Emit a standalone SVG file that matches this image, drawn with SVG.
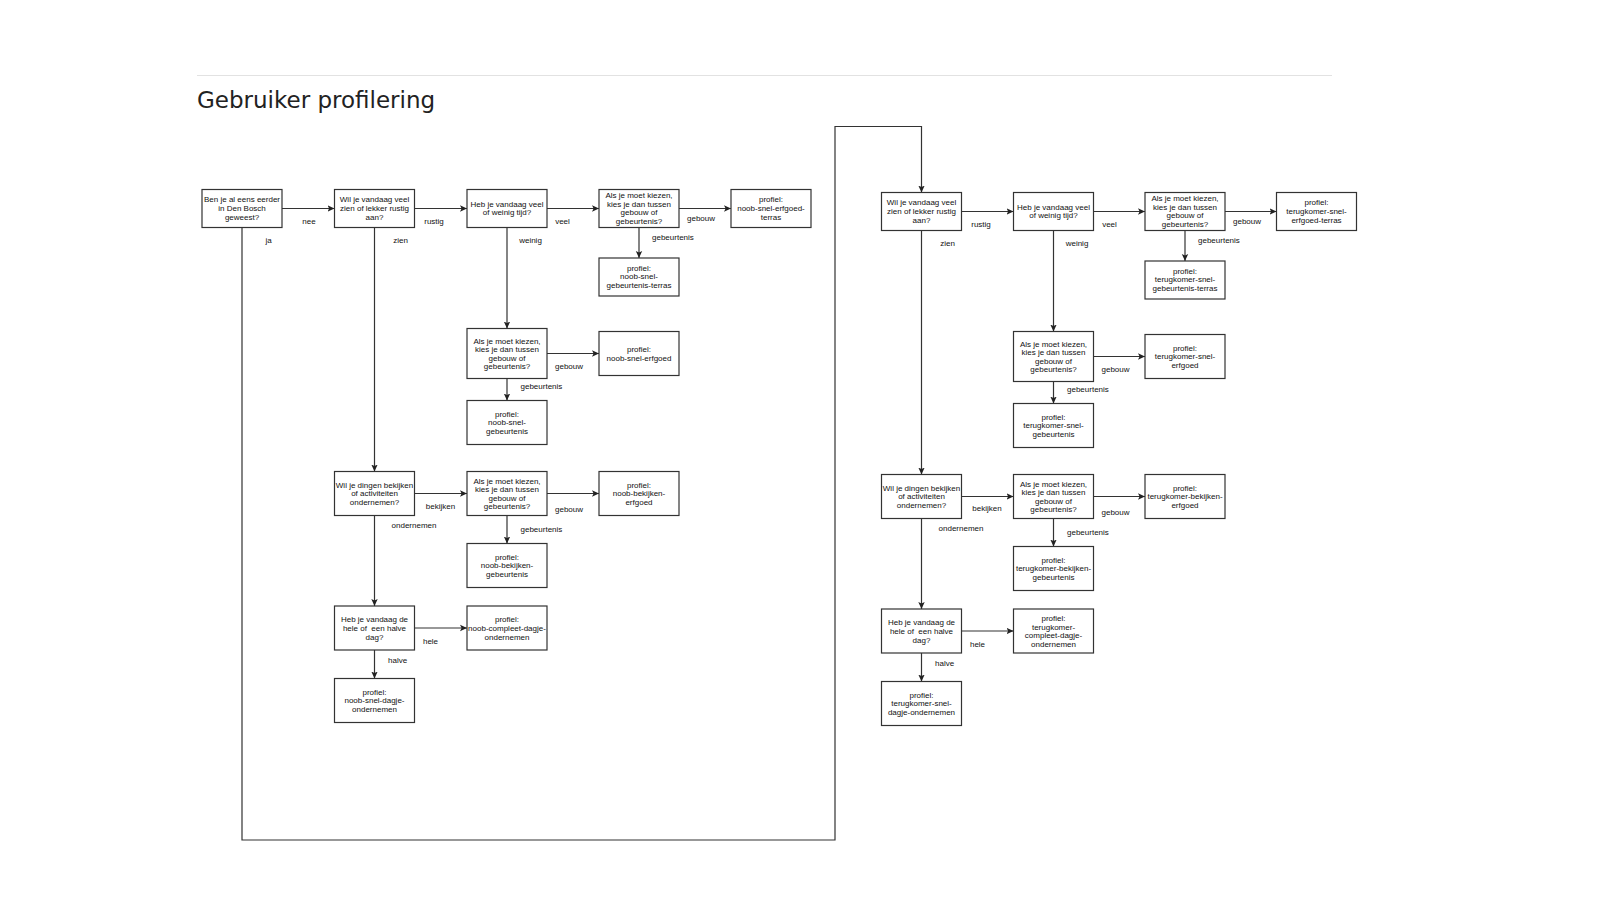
<svg xmlns="http://www.w3.org/2000/svg" width="1600" height="900" viewBox="0 0 1600 900">
  <style>
    .title { font-family: "DejaVu Sans", "Liberation Sans", sans-serif; font-size: 23px; fill: #222; }
    .node rect { fill: #fff; stroke: #333; stroke-width: 1.2; }
    .node text { font-family: "Liberation Sans", Arial, sans-serif; font-size: 8px; fill: #111; text-anchor: middle; }
    .conn { fill: none; stroke: #333; stroke-width: 1.2; }
    .lbl { font-family: "Liberation Sans", Arial, sans-serif; font-size: 8px; fill: #111; text-anchor: middle; }
    .lbl.start { text-anchor: start; }
  </style>
  <defs>
    <marker id="arrow" markerUnits="userSpaceOnUse" markerWidth="8" markerHeight="8" viewBox="0 0 8 8" refX="7" refY="4" orient="auto">
      <path d="M0,0.8 L7,4 L0,7.2 L1.6,4 Z" fill="#222"/>
    </marker>
  </defs>

  <rect x="0" y="0" width="1600" height="900" fill="#fff"/>

  <!-- header -->
  <line x1="197" y1="75.5" x2="1332" y2="75.5" stroke="#e2e2e2" stroke-width="1"/>
  <text class="title" x="197" y="108">Gebruiker profilering</text>

  <!-- connectors -->
  <g id="connectors">
    <!-- left flow -->
    <path class="conn" marker-end="url(#arrow)" d="M282,208.5 H334.5"/>
    <path class="conn" marker-end="url(#arrow)" d="M414.5,208.5 H467"/>
    <path class="conn" marker-end="url(#arrow)" d="M547,208.5 H599"/>
    <path class="conn" marker-end="url(#arrow)" d="M679,208.5 H731"/>
    <path class="conn" marker-end="url(#arrow)" d="M639,227.5 V258"/>
    <path class="conn" marker-end="url(#arrow)" d="M507,227.5 V328.5"/>
    <path class="conn" marker-end="url(#arrow)" d="M547,353.5 H599"/>
    <path class="conn" marker-end="url(#arrow)" d="M507,378.5 V400.5"/>
    <path class="conn" marker-end="url(#arrow)" d="M374.5,227.5 V471.5"/>
    <path class="conn" marker-end="url(#arrow)" d="M414.5,493.5 H467"/>
    <path class="conn" marker-end="url(#arrow)" d="M547,493.5 H599"/>
    <path class="conn" marker-end="url(#arrow)" d="M507,515.5 V543.5"/>
    <path class="conn" marker-end="url(#arrow)" d="M374.5,515.5 V606"/>
    <path class="conn" marker-end="url(#arrow)" d="M414.5,628 H467"/>
    <path class="conn" marker-end="url(#arrow)" d="M374.5,650 V678.5"/>
    <!-- "ja" branch loops round to the returning-visitor flow -->
    <path class="conn" marker-end="url(#arrow)" d="M242,227.5 V840 H835 V126.5 H921.5 V192.5"/>

    <!-- right flow -->
    <path class="conn" marker-end="url(#arrow)" d="M961.5,211.5 H1013.5"/>
    <path class="conn" marker-end="url(#arrow)" d="M1093.5,211.5 H1145"/>
    <path class="conn" marker-end="url(#arrow)" d="M1225,211.5 H1276.5"/>
    <path class="conn" marker-end="url(#arrow)" d="M1185,230.5 V261"/>
    <path class="conn" marker-end="url(#arrow)" d="M1053.5,230.5 V331.5"/>
    <path class="conn" marker-end="url(#arrow)" d="M1093.5,356.5 H1145"/>
    <path class="conn" marker-end="url(#arrow)" d="M1053.5,381.5 V403.5"/>
    <path class="conn" marker-end="url(#arrow)" d="M921.5,230.5 V474.5"/>
    <path class="conn" marker-end="url(#arrow)" d="M961.5,496.5 H1013.5"/>
    <path class="conn" marker-end="url(#arrow)" d="M1093.5,496.5 H1145"/>
    <path class="conn" marker-end="url(#arrow)" d="M1053.5,518.5 V546.5"/>
    <path class="conn" marker-end="url(#arrow)" d="M921.5,518.5 V609"/>
    <path class="conn" marker-end="url(#arrow)" d="M961.5,631 H1013.5"/>
    <path class="conn" marker-end="url(#arrow)" d="M921.5,653 V681.5"/>

    <!-- edge labels -->
    <text class="lbl" x="309" y="224">nee</text>
    <text class="lbl" x="268.5" y="243">ja</text>
    <text class="lbl" x="434" y="224">rustig</text>
    <text class="lbl" x="400.5" y="243">zien</text>
    <text class="lbl" x="562.5" y="224">veel</text>
    <text class="lbl" x="530.5" y="243">weinig</text>
    <text class="lbl" x="701" y="221">gebouw</text>
    <text class="lbl start" x="652" y="240">gebeurtenis</text>
    <text class="lbl" x="569" y="369">gebouw</text>
    <text class="lbl start" x="520.5" y="389">gebeurtenis</text>
    <text class="lbl" x="440.5" y="508.5">bekijken</text>
    <text class="lbl" x="569" y="512">gebouw</text>
    <text class="lbl start" x="520.5" y="532">gebeurtenis</text>
    <text class="lbl" x="414" y="528">ondernemen</text>
    <text class="lbl" x="430.5" y="644">hele</text>
    <text class="lbl start" x="388" y="663">halve</text>

    <text class="lbl" x="981" y="227">rustig</text>
    <text class="lbl" x="947.5" y="246">zien</text>
    <text class="lbl" x="1109.5" y="227">veel</text>
    <text class="lbl" x="1077" y="246">weinig</text>
    <text class="lbl" x="1247" y="224">gebouw</text>
    <text class="lbl start" x="1198" y="243">gebeurtenis</text>
    <text class="lbl" x="1115.5" y="372">gebouw</text>
    <text class="lbl start" x="1067" y="392">gebeurtenis</text>
    <text class="lbl" x="987" y="511">bekijken</text>
    <text class="lbl" x="1115.5" y="515">gebouw</text>
    <text class="lbl start" x="1067" y="535">gebeurtenis</text>
    <text class="lbl" x="961" y="531">ondernemen</text>
    <text class="lbl" x="977.5" y="647">hele</text>
    <text class="lbl start" x="935" y="666">halve</text>
  </g>

  <!-- first-time visitor (noob) -->
  <g id="n-bosch" class="node">
    <rect x="202" y="189.5" width="80" height="38"/>
    <text x="242"><tspan x="242" y="202.3">Ben je al eens eerder</tspan><tspan x="242" y="210.9">in Den Bosch</tspan><tspan x="242" y="219.5">geweest?</tspan></text>
  </g>
  <g id="n-zien" class="node">
    <rect x="334.5" y="189.5" width="80" height="38"/>
    <text><tspan x="374.5" y="202.3">Wil je vandaag veel</tspan><tspan x="374.5" y="210.9">zien of lekker rustig</tspan><tspan x="374.5" y="219.5">aan?</tspan></text>
  </g>
  <g id="n-tijd" class="node">
    <rect x="467" y="189.5" width="80" height="38"/>
    <text><tspan x="507" y="206.6">Heb je vandaag veel</tspan><tspan x="507" y="215.2">of weinig tijd?</tspan></text>
  </g>
  <g id="n-keuze-terras" class="node">
    <rect x="599" y="189.5" width="80" height="38"/>
    <text><tspan x="639" y="198">Als je moet kiezen,</tspan><tspan x="639" y="206.6">kies je dan tussen</tspan><tspan x="639" y="215.2">gebouw of</tspan><tspan x="639" y="223.8">gebeurtenis?</tspan></text>
  </g>
  <g id="n-noob-snel-erfgoed-terras" class="node">
    <rect x="731" y="189.5" width="80" height="38"/>
    <text><tspan x="771" y="202.3">profiel:</tspan><tspan x="771" y="210.9">noob-snel-erfgoed-</tspan><tspan x="771" y="219.5">terras</tspan></text>
  </g>
  <g id="n-noob-snel-gebeurtenis-terras" class="node">
    <rect x="599" y="258" width="80" height="38"/>
    <text><tspan x="639" y="270.8">profiel:</tspan><tspan x="639" y="279.4">noob-snel-</tspan><tspan x="639" y="288">gebeurtenis-terras</tspan></text>
  </g>
  <g id="n-keuze-snel" class="node">
    <rect x="467" y="328.5" width="80" height="50"/>
    <text><tspan x="507" y="343.6">Als je moet kiezen,</tspan><tspan x="507" y="352.2">kies je dan tussen</tspan><tspan x="507" y="360.8">gebouw of</tspan><tspan x="507" y="369.4">gebeurtenis?</tspan></text>
  </g>
  <g id="n-noob-snel-erfgoed" class="node">
    <rect x="599" y="331.5" width="80" height="44"/>
    <text><tspan x="639" y="352.2">profiel:</tspan><tspan x="639" y="360.8">noob-snel-erfgoed</tspan></text>
  </g>
  <g id="n-noob-snel-gebeurtenis" class="node">
    <rect x="467" y="400.5" width="80" height="44"/>
    <text><tspan x="507" y="416.8">profiel:</tspan><tspan x="507" y="425.4">noob-snel-</tspan><tspan x="507" y="434">gebeurtenis</tspan></text>
  </g>
  <g id="n-bekijken" class="node">
    <rect x="334.5" y="471.5" width="80" height="44"/>
    <text><tspan x="374.5" y="487.8">Wil je dingen bekijken</tspan><tspan x="374.5" y="496.4">of activiteiten</tspan><tspan x="374.5" y="505">ondernemen?</tspan></text>
  </g>
  <g id="n-keuze-bekijken" class="node">
    <rect x="467" y="471.5" width="80" height="44"/>
    <text><tspan x="507" y="483.6">Als je moet kiezen,</tspan><tspan x="507" y="492.2">kies je dan tussen</tspan><tspan x="507" y="500.8">gebouw of</tspan><tspan x="507" y="509.4">gebeurtenis?</tspan></text>
  </g>
  <g id="n-noob-bekijken-erfgoed" class="node">
    <rect x="599" y="471.5" width="80" height="44"/>
    <text><tspan x="639" y="487.8">profiel:</tspan><tspan x="639" y="496.4">noob-bekijken-</tspan><tspan x="639" y="505">erfgoed</tspan></text>
  </g>
  <g id="n-noob-bekijken-gebeurtenis" class="node">
    <rect x="467" y="543.5" width="80" height="44"/>
    <text><tspan x="507" y="559.8">profiel:</tspan><tspan x="507" y="568.4">noob-bekijken-</tspan><tspan x="507" y="577">gebeurtenis</tspan></text>
  </g>
  <g id="n-dag" class="node">
    <rect x="334.5" y="606" width="80" height="44"/>
    <text><tspan x="374.5" y="622.3">Heb je vandaag de</tspan><tspan x="374.5" y="630.9" xml:space="preserve">hele of  een halve</tspan><tspan x="374.5" y="639.5">dag?</tspan></text>
  </g>
  <g id="n-noob-compleet-dagje" class="node">
    <rect x="467" y="606" width="80" height="44"/>
    <text><tspan x="507" y="622.3">profiel:</tspan><tspan x="507" y="630.9">noob-compleet-dagje-</tspan><tspan x="507" y="639.5">ondernemen</tspan></text>
  </g>
  <g id="n-noob-snel-dagje" class="node">
    <rect x="334.5" y="678.5" width="80" height="44"/>
    <text><tspan x="374.5" y="694.8">profiel:</tspan><tspan x="374.5" y="703.4">noob-snel-dagje-</tspan><tspan x="374.5" y="712">ondernemen</tspan></text>
  </g>

  <!-- returning visitor (terugkomer) -->
  <g id="t-zien" class="node">
    <rect x="881.5" y="192.5" width="80" height="38"/>
    <text><tspan x="921.5" y="205.3">Wil je vandaag veel</tspan><tspan x="921.5" y="213.9">zien of lekker rustig</tspan><tspan x="921.5" y="222.5">aan?</tspan></text>
  </g>
  <g id="t-tijd" class="node">
    <rect x="1013.5" y="192.5" width="80" height="38"/>
    <text><tspan x="1053.5" y="209.6">Heb je vandaag veel</tspan><tspan x="1053.5" y="218.2">of weinig tijd?</tspan></text>
  </g>
  <g id="t-keuze-terras" class="node">
    <rect x="1145" y="192.5" width="80" height="38"/>
    <text><tspan x="1185" y="201">Als je moet kiezen,</tspan><tspan x="1185" y="209.6">kies je dan tussen</tspan><tspan x="1185" y="218.2">gebouw of</tspan><tspan x="1185" y="226.8">gebeurtenis?</tspan></text>
  </g>
  <g id="t-snel-erfgoed-terras" class="node">
    <rect x="1276.5" y="192.5" width="80" height="38"/>
    <text><tspan x="1316.5" y="205.3">profiel:</tspan><tspan x="1316.5" y="213.9">terugkomer-snel-</tspan><tspan x="1316.5" y="222.5">erfgoed-terras</tspan></text>
  </g>
  <g id="t-snel-gebeurtenis-terras" class="node">
    <rect x="1145" y="261" width="80" height="38"/>
    <text><tspan x="1185" y="273.8">profiel:</tspan><tspan x="1185" y="282.4">terugkomer-snel-</tspan><tspan x="1185" y="291">gebeurtenis-terras</tspan></text>
  </g>
  <g id="t-keuze-snel" class="node">
    <rect x="1013.5" y="331.5" width="80" height="50"/>
    <text><tspan x="1053.5" y="346.6">Als je moet kiezen,</tspan><tspan x="1053.5" y="355.2">kies je dan tussen</tspan><tspan x="1053.5" y="363.8">gebouw of</tspan><tspan x="1053.5" y="372.4">gebeurtenis?</tspan></text>
  </g>
  <g id="t-snel-erfgoed" class="node">
    <rect x="1145" y="334.5" width="80" height="44"/>
    <text><tspan x="1185" y="350.8">profiel:</tspan><tspan x="1185" y="359.4">terugkomer-snel-</tspan><tspan x="1185" y="368">erfgoed</tspan></text>
  </g>
  <g id="t-snel-gebeurtenis" class="node">
    <rect x="1013.5" y="403.5" width="80" height="44"/>
    <text><tspan x="1053.5" y="419.8">profiel:</tspan><tspan x="1053.5" y="428.4">terugkomer-snel-</tspan><tspan x="1053.5" y="437">gebeurtenis</tspan></text>
  </g>
  <g id="t-bekijken" class="node">
    <rect x="881.5" y="474.5" width="80" height="44"/>
    <text><tspan x="921.5" y="490.8">Wil je dingen bekijken</tspan><tspan x="921.5" y="499.4">of activiteiten</tspan><tspan x="921.5" y="508">ondernemen?</tspan></text>
  </g>
  <g id="t-keuze-bekijken" class="node">
    <rect x="1013.5" y="474.5" width="80" height="44"/>
    <text><tspan x="1053.5" y="486.6">Als je moet kiezen,</tspan><tspan x="1053.5" y="495.2">kies je dan tussen</tspan><tspan x="1053.5" y="503.8">gebouw of</tspan><tspan x="1053.5" y="512.4">gebeurtenis?</tspan></text>
  </g>
  <g id="t-bekijken-erfgoed" class="node">
    <rect x="1145" y="474.5" width="80" height="44"/>
    <text><tspan x="1185" y="490.8">profiel:</tspan><tspan x="1185" y="499.4">terugkomer-bekijken-</tspan><tspan x="1185" y="508">erfgoed</tspan></text>
  </g>
  <g id="t-bekijken-gebeurtenis" class="node">
    <rect x="1013.5" y="546.5" width="80" height="44"/>
    <text><tspan x="1053.5" y="562.8">profiel:</tspan><tspan x="1053.5" y="571.4">terugkomer-bekijken-</tspan><tspan x="1053.5" y="580">gebeurtenis</tspan></text>
  </g>
  <g id="t-dag" class="node">
    <rect x="881.5" y="609" width="80" height="44"/>
    <text><tspan x="921.5" y="625.3">Heb je vandaag de</tspan><tspan x="921.5" y="633.9" xml:space="preserve">hele of  een halve</tspan><tspan x="921.5" y="642.5">dag?</tspan></text>
  </g>
  <g id="t-compleet-dagje" class="node">
    <rect x="1013.5" y="609" width="80" height="44"/>
    <text><tspan x="1053.5" y="621">profiel:</tspan><tspan x="1053.5" y="629.6">terugkomer-</tspan><tspan x="1053.5" y="638.2">compleet-dagje-</tspan><tspan x="1053.5" y="646.8">ondernemen</tspan></text>
  </g>
  <g id="t-snel-dagje" class="node">
    <rect x="881.5" y="681.5" width="80" height="44"/>
    <text><tspan x="921.5" y="697.8">profiel:</tspan><tspan x="921.5" y="706.4">terugkomer-snel-</tspan><tspan x="921.5" y="715">dagje-ondernemen</tspan></text>
  </g>
</svg>
